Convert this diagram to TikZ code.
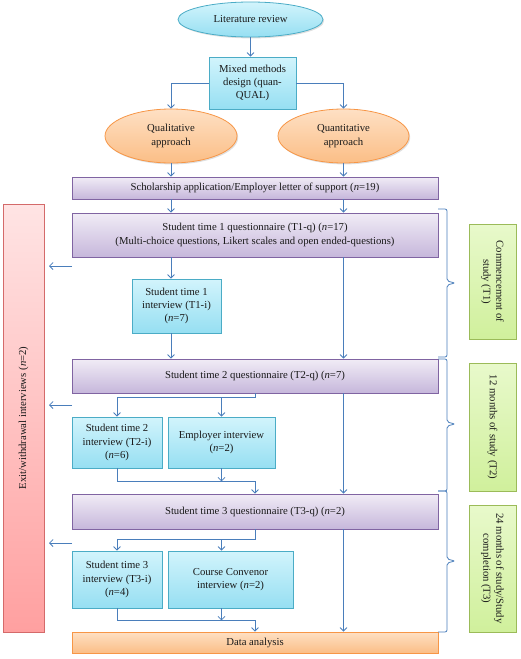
\documentclass[tikz,border=0pt]{standalone}
\usepackage{fontspec}
\setmainfont{Liberation Serif}
\usetikzlibrary{shapes.geometric,arrows.meta,shadows}
\definecolor{link}{HTML}{4A7EBB}
\definecolor{ink}{HTML}{1A1A1A}
\definecolor{cyanA}{HTML}{D2F4FC}
\definecolor{cyanB}{HTML}{96DFF2}
\definecolor{cyanD}{HTML}{4BACC6}
\definecolor{orgA}{HTML}{FEE0C4}
\definecolor{orgB}{HTML}{FBBE86}
\definecolor{orgD}{HTML}{F79646}
\definecolor{purA}{HTML}{F1ECF6}
\definecolor{purB}{HTML}{C6B7DB}
\definecolor{purD}{HTML}{8064A2}
\definecolor{redA}{HTML}{FFE4E4}
\definecolor{redB}{HTML}{FFA0A0}
\definecolor{redD}{HTML}{D46A6A}
\definecolor{grnA}{HTML}{E8F9CB}
\definecolor{grnB}{HTML}{D0F09C}
\definecolor{grnD}{HTML}{9BBB59}
\tikzset{
  txt/.style={text=ink, font=\fontsize{10.7}{13.2}\selectfont, align=center, inner sep=0pt},
  shd/.style={drop shadow={opacity=0.25, shadow xshift=1.2pt, shadow yshift=-1.4pt}},
  oval/.style={txt, shd, ellipse, draw=cyanD, line width=0.8pt, top color=cyanA, bottom color=cyanB},
  appr/.style={txt, shd, ellipse, draw=orgD, line width=0.8pt, top color=orgA, bottom color=orgB},
  mbox/.style={txt, shd, rectangle, draw=cyanD, line width=0.8pt, top color=cyanA, bottom color=cyanB},
  qbox/.style={txt, shd, rectangle, draw=purD, line width=0.8pt, top color=purA, bottom color=purB, minimum width=366pt},
  dbox/.style={txt, shd, rectangle, draw=orgD, line width=0.8pt, top color=orgA, bottom color=orgB, minimum width=366pt},
  ebox/.style={shd, rectangle, draw=redD, line width=0.8pt, top color=redA, bottom color=redB},
  tbox/.style={shd, rectangle, draw=grnD, line width=0.8pt, top color=grnA, bottom color=grnB},
  vlab/.style={txt},
  arr/.style={draw=link, line width=0.8pt, -{Straight Barb[length=3.5pt,width=7pt]}},
  brc/.style={draw=link, line width=0.8pt, rounded corners=2pt},
}
\begin{document}
\begin{tikzpicture}[x=1pt,y=-1pt]
  \useasboundingbox (0,0) rectangle (520,659);
  % top of the design
  \node[oval, minimum width=145pt, minimum height=35pt] (lit) at (250.5,19.5) {Literature review};
  \node[mbox, minimum width=87pt, minimum height=52pt] (mixed) at (252.5,83) {Mixed methods\\design (quan-\\QUAL)};
  \node[appr, minimum width=132pt, minimum height=54pt] (qual) at (171,136) {Qualitative\\approach};
  \node[appr, minimum width=131pt, minimum height=54pt] (quant) at (343.5,136) {Quantitative\\approach};
  \node[qbox, minimum height=22pt] (schol) at (255,188) {Scholarship application/Employer letter of support (\textit{n}=19)};
  % time 1
  \node[qbox, minimum height=44pt] (t1q) at (255,235) {Student time 1 questionnaire (T1-q) (\textit{n}=17)\\(Multi-choice questions, Likert scales and open ended-questions)};
  \node[mbox, minimum width=89pt, minimum height=54pt] (t1i) at (176.5,306) {Student time 1\\interview (T1-i)\\(\textit{n}=7)};
  % time 2
  \node[qbox, minimum height=34pt] (t2q) at (255,376) {Student time 2 questionnaire (T2-q) (\textit{n}=7)};
  \node[mbox, minimum width=90pt, minimum height=51pt] (t2i) at (117,442.5) {Student time 2\\interview (T2-i)\\(\textit{n}=6)};
  \node[mbox, minimum width=107pt, minimum height=51pt] (emp) at (221.5,442.5) {Employer interview\\(\textit{n}=2)};
  % time 3
  \node[qbox, minimum height=35pt] (t3q) at (255,511.5) {Student time 3 questionnaire (T3-q) (\textit{n}=2)};
  \node[mbox, minimum width=90pt, minimum height=57pt] (t3i) at (117,579.5) {Student time 3\\interview (T3-i)\\(\textit{n}=4)};
  \node[mbox, minimum width=125pt, minimum height=57pt] (conv) at (230.5,579.5) {Course Convenor\\interview (\textit{n}=2)};
  \node[dbox, minimum height=21pt] (data) at (255,642.5) {Data analysis};
  % side bars
  \node[ebox, minimum width=41pt, minimum height=428pt] (exit) at (23.5,418) {};
  \node[vlab, rotate=90] (exitlab) at (exit) {Exit/withdrawal interviews (\textit{n}=2)};
  \node[tbox, minimum width=47pt, minimum height=115pt] (g1) at (492.5,281.5) {};
  \node[vlab, rotate=-90] (g1lab) at (g1) {Commencement of\\study (T1)};
  \node[tbox, minimum width=47pt, minimum height=128pt] (g2) at (492.5,427) {};
  \node[vlab, rotate=-90] (g2lab) at (g2) {12 months of study (T2)};
  \node[tbox, minimum width=47pt, minimum height=127pt] (g3) at (492.5,568.5) {};
  \node[vlab, rotate=-90] (g3lab) at (g3) {24 months of study/Study\\completion (T3)};
  % connectors
  \draw[arr] (lit.south) -- (lit.south |- mixed.north);
  \draw[arr] (mixed.west) -| (qual.north);
  \draw[arr] (mixed.east) -| (quant.north);
  \draw[arr] (qual.south) -- (qual.south |- schol.north);
  \draw[arr] (quant.south) -- (quant.south |- schol.north);
  \draw[arr] (schol.south -| qual) -- (t1q.north -| qual);
  \draw[arr] (schol.south -| quant) -- (t1q.north -| quant);
  \draw[arr] (t1q.south -| qual) -- (t1i.north -| qual);
  \draw[arr] (t1i.south -| qual) -- (t2q.north -| qual);
  \draw[arr] (t1q.south -| quant) -- (t2q.north -| quant);
  \draw[arr] (t2q.south) -- ++(0,3.5) -| (t2i.north);
  \draw[arr] (t2q.south) -- ++(0,3.5) -| (emp.north);
  \draw[arr] (t2i.south) -- ++(0,13) -| (t3q.north);
  \draw[arr] (emp.south) -- ++(0,13);
  \draw[arr] (t2q.south -| quant) -- (t3q.north -| quant);
  \draw[arr] (t3q.south) -- ++(0,10) -| (t3i.north);
  \draw[arr] (t3q.south) -- ++(0,10) -| (conv.north -| emp);
  \draw[arr] (t3i.south) -- ++(0,12) -| (data.north);
  \draw[arr] (conv.south -| emp) -- ++(0,12);
  \draw[arr] (t3q.south -| quant) -- (data.north -| quant);
  % exits
  \coordinate (x1) at (72,266);
  \coordinate (x2) at (72,405);
  \coordinate (x3) at (72,543);
  \foreach \c in {x1,x2,x3}
    \draw[arr] (\c) -- ++(-23,0);
  % braces
  \foreach \a/\m/\b in {209/283/357, 359/424/491, 491/561/632}
    \draw[brc] (438,\a) -- (447,\a) -- (447,\m-2) -- (455,\m) -- (447,\m+2) -- (447,\b) -- (438,\b);
\end{tikzpicture}
\end{document}
